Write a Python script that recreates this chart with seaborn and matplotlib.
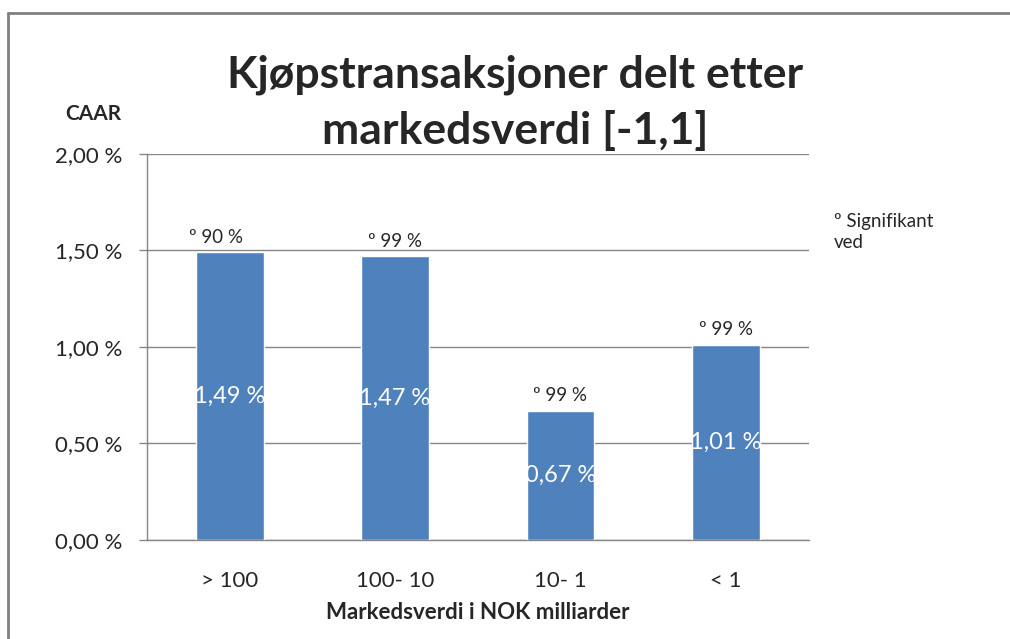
import matplotlib
matplotlib.use('Agg')
import matplotlib.pyplot as plt
import seaborn as sns
import pandas as pd
from matplotlib.lines import Line2D

categories = ['> 100', '100- 10', '10- 1', '< 1']
caar = [1.49, 1.47, 0.67, 1.01]
signif = ['º 90 %', 'º 99 %', 'º 99 %', 'º 99 %']
yticks = [0.0, 0.5, 1.0, 1.5, 2.0]
ytick_labels = ['0,00 %', '0,50 %', '1,00 %', '1,50 %', '2,00 %']

sns.set_theme(style='white')
plt.rcParams['font.family'] = ['Lato', 'DejaVu Sans']

df = pd.DataFrame({'kat': categories, 'caar': caar})

fig = plt.figure(figsize=(10.1, 6.39), dpi=100)
ax = fig.add_axes([0.1455, 0.155, 0.655, 0.604])

grid_c = '#868686'
sns.barplot(data=df, x='kat', y='caar', color='#4F81BD', saturation=1,
            width=0.41, ax=ax, zorder=3)

ax.set_ylim(0, 2.0)
ax.set_xlim(-0.5, 3.5)
ax.set_yticks(yticks)
ax.set_yticklabels(ytick_labels, fontsize=16)
ax.tick_params(axis='y', length=6, color=grid_c, width=1, pad=12, left=True)
ax.tick_params(axis='x', length=0, labelsize=16, pad=22)
ax.yaxis.grid(True, color=grid_c, linewidth=1)
ax.set_axisbelow(True)
for s in ['top', 'right']:
    ax.spines[s].set_visible(False)
for s in ['left', 'bottom']:
    ax.spines[s].set_color(grid_c)
    ax.spines[s].set_linewidth(1)
ax.set_ylabel('')
ax.set_xlabel('Markedsverdi i NOK milliarder', fontsize=16, fontweight='bold', labelpad=8)

for i, v in enumerate(caar):
    ax.text(i, v / 2, f'{v:.2f} %'.replace('.', ','), ha='center', va='center',
            color='white', fontsize=17, zorder=4)
    ax.text(i - (0.08 if i == 0 else 0.0), v + 0.035, signif[i], ha='center', va='bottom',
            fontsize=13.5, zorder=4)

fig.text(0.51, 0.883, 'Kjøpstransaksjoner delt etter', ha='center', va='center',
         fontsize=32, fontweight='bold')
fig.text(0.51, 0.795, 'markedsverdi [-1,1]', ha='center', va='center',
         fontsize=32, fontweight='bold')
fig.text(0.092, 0.822, 'CAAR', ha='center', va='center', fontsize=15, fontweight='bold')
fig.text(0.826, 0.637, 'º Signifikant\nved', ha='left', va='center', fontsize=13.5,
         linespacing=1.3)

# chart area border (top and left only visible)
fig.add_artist(Line2D([0.008, 1.0], [1 - 13 / 639, 1 - 13 / 639], color='#808080',
                      linewidth=2, transform=fig.transFigure))
fig.add_artist(Line2D([0.008, 0.008], [0.0, 1 - 13 / 639], color='#808080',
                      linewidth=2, transform=fig.transFigure))

plt.savefig('out.png', dpi=100)
